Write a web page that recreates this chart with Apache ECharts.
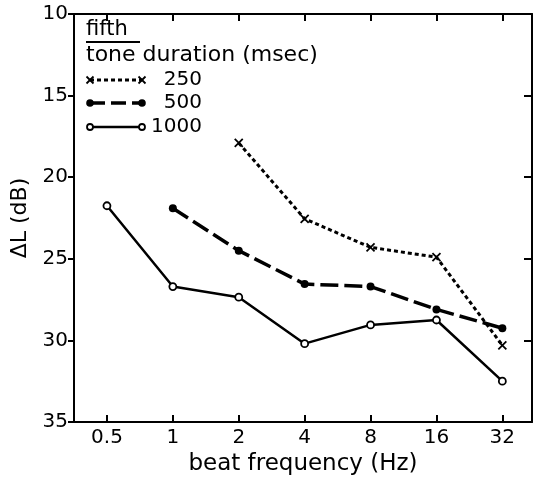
<!DOCTYPE html>
<html>
<head>
<meta charset="utf-8">
<script src="https://cdn.jsdelivr.net/npm/echarts@6/dist/echarts.min.js"></script>
<style>html,body{margin:0;padding:0;background:#fff;}#c{width:538px;height:481px;}</style>
</head>
<body>
<div id="c"></div>
<script>
// ---- data ----
const freqs = [0.5, 1, 2, 4, 8, 16, 32];
const freqLabels = ['0.5', '1', '2', '4', '8', '16', '32'];
const d250  = [null, null, 17.9, 22.55, 24.3, 24.9, 30.3];
const d500  = [null, 21.9, 24.5, 26.55, 26.7, 28.1, 29.25];
const d1000 = [21.75, 26.7, 27.35, 30.2, 29.05, 28.75, 32.5];
const yTicks = [10, 15, 20, 25, 30, 35];
const legendTitle = 'fifth';
const legendSub = 'tone duration (msec)';
const seriesNames = ['250', '500', '1000'];

const FONT = 'DejaVu Sans';
const logX = freqs.map(f => Math.log2(f));
const toPts = arr => arr.map((v, i) => v == null ? null : [logX[i], v]).filter(p => p);

const chart = echarts.init(document.getElementById('c'), null, {renderer: 'canvas'});

const xBase = {
  type: 'value', min: -1.5, max: 5.45,
  splitLine: {show: false},
  axisLine: {show: true, onZero: false, lineStyle: {color: '#000', width: 2}},
  axisTick: {show: true, inside: true, length: 7, customValues: logX, lineStyle: {color: '#000', width: 2}},
};
const yBase = {
  type: 'value', min: 10, max: 35, interval: 5, inverse: true,
  splitLine: {show: false},
  axisLine: {show: true, onZero: false, lineStyle: {color: '#000', width: 2}},
};

const crossPath = 'path://M0,0L10,10M10,0L0,10';

function legendRow(y, dash, width, symbol, label) {
  const els = [];
  els.push({type: 'line', shape: {x1: 90, y1: y, x2: 142, y2: y},
    style: {stroke: '#000', lineWidth: width, lineDash: dash}});
  [90, 142].forEach(x => {
    if (symbol === 'cross') {
      els.push({type: 'line', shape: {x1: x - 3.5, y1: y - 3.5, x2: x + 3.5, y2: y + 3.5}, style: {stroke: '#000', lineWidth: 1.8}});
      els.push({type: 'line', shape: {x1: x - 3.5, y1: y + 3.5, x2: x + 3.5, y2: y - 3.5}, style: {stroke: '#000', lineWidth: 1.8}});
    } else if (symbol === 'dot') {
      els.push({type: 'circle', shape: {cx: x, cy: y, r: 3.8}, style: {fill: '#000'}});
    } else {
      els.push({type: 'circle', shape: {cx: x, cy: y, r: 3}, style: {fill: '#fff', stroke: '#000', lineWidth: 1.8}, z: 10});
    }
  });
  els.push({type: 'text', style: {x: 202, y: y, text: label, font: '20px "' + FONT + '"', fill: '#000', align: 'right', verticalAlign: 'middle'}});
  return els;
}

const graphics = [].concat(
  [{type: 'text', style: {x: 86, y: 30, text: legendTitle, font: '21px "' + FONT + '"', fill: '#000', align: 'left', verticalAlign: 'middle'}},
   {type: 'line', shape: {x1: 86, y1: 42, x2: 140, y2: 42}, style: {stroke: '#000', lineWidth: 2}},
   {type: 'text', style: {x: 86, y: 55, text: legendSub, font: '22px "' + FONT + '"', fill: '#000', align: 'left', verticalAlign: 'middle'}}],
  legendRow(80, [4, 3], 3, 'cross', seriesNames[0]),
  legendRow(103, [15, 6], 3.5, 'dot', seriesNames[1]),
  legendRow(127, null, 2.5, 'circle', seriesNames[2])
);

chart.setOption({
  animation: false,
  backgroundColor: '#fff',
  grid: {left: 74, right: 6, top: 14, bottom: 59, containLabel: false},
  xAxis: [
    Object.assign({}, xBase, {
      position: 'bottom',
      name: 'beat frequency (Hz)', nameLocation: 'middle', nameGap: 22,
      nameTextStyle: {fontFamily: FONT, fontSize: 23, color: '#000'},
      axisLabel: {show: true, customValues: logX, margin: 6, color: '#000', fontFamily: FONT, fontSize: 20,
        formatter: v => freqLabels[logX.indexOf(v)] || ''}
    }),
    Object.assign({}, xBase, {position: 'top', axisLabel: {show: false}})
  ],
  yAxis: [
    Object.assign({}, yBase, {
      position: 'left',
      name: 'ΔL (dB)', nameLocation: 'middle', nameGap: 38, nameRotate: 90,
      nameTextStyle: {fontFamily: FONT, fontSize: 22, color: '#000'},
      axisTick: {show: true, inside: false, length: 6, lineStyle: {color: '#000', width: 2}},
      axisLabel: {show: true, margin: 6, color: '#000', fontFamily: FONT, fontSize: 20,
        formatter: v => yTicks.indexOf(v) >= 0 ? String(v) : ''}
    }),
    Object.assign({}, yBase, {
      position: 'right',
      axisTick: {show: true, inside: true, length: 8, lineStyle: {color: '#000', width: 2}},
      axisLabel: {show: false}
    })
  ],
  series: [
    {name: seriesNames[0], type: 'line', data: toPts(d250), symbol: crossPath, symbolSize: 8,
      lineStyle: {color: '#000', width: 3, type: [4, 3]},
      itemStyle: {color: '#000', borderColor: '#000', borderWidth: 1.8}, z: 3},
    {name: seriesNames[1], type: 'line', data: toPts(d500), symbol: 'circle', symbolSize: 8,
      lineStyle: {color: '#000', width: 3.5, type: [18, 6]},
      itemStyle: {color: '#000'}, z: 3},
    {name: seriesNames[2], type: 'line', data: toPts(d1000), symbol: 'circle', symbolSize: 7,
      lineStyle: {color: '#000', width: 2.5},
      itemStyle: {color: '#fff', borderColor: '#000', borderWidth: 1.8}, z: 4}
  ],
  graphic: graphics
});
</script>
</body>
</html>
